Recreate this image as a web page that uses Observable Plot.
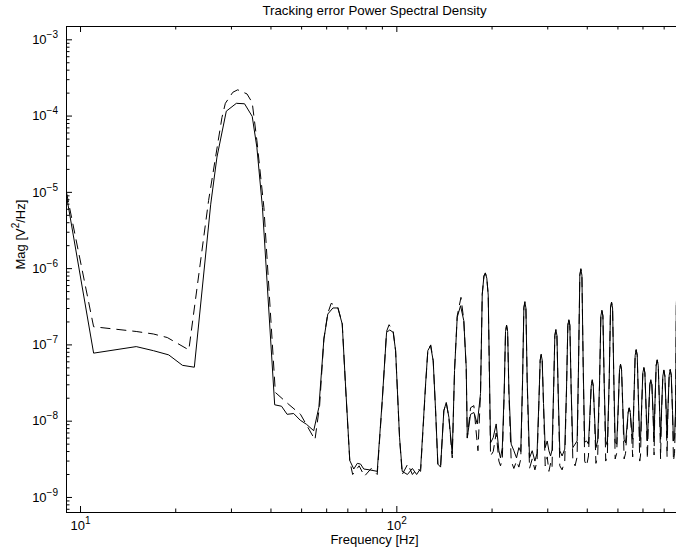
<!DOCTYPE html>
<html>
<head>
<meta charset="utf-8">
<script src="https://cdn.jsdelivr.net/npm/d3@7"></script>
<script src="https://cdn.jsdelivr.net/npm/@observablehq/plot@0.6"></script>
<style>
html, body { margin: 0; padding: 0; background: #fff; overflow: hidden; }
#chart svg { display: block; }
</style>
</head>
<body>
<div id="chart"></div>
<script>
// ---------- DATA ----------
const titleText = "Tracking error Power Spectral Density";
const xLabelText = "Frequency [Hz]";
const yLabelText = "Mag [V^{2}/Hz]";

const xTickValues = [10, 100];
const xTickLabels = ["10^{1}", "10^{2}"];
const yTickValues = [1e-9, 1e-8, 1e-7, 1e-6, 1e-5, 1e-4, 1e-3];
const yTickLabels = ["10^{−9}", "10^{−8}", "10^{−7}", "10^{−6}", "10^{−5}", "10^{−4}", "10^{−3}"];

// solid trace, [frequency Hz, magnitude] (below 183 Hz)
const solidLow = [
  [9.03, 9.0e-6], [11, 7.8e-8], [15, 9.5e-8], [17, 8.4e-8], [19, 7.4e-8], [21, 5.4e-8], [22.9, 5.1e-8],
  [25.8, 7.0e-6], [27.0, 2.9e-5], [28.9, 1.16e-4], [31.1, 1.47e-4], [33.0, 1.45e-4], [34.9, 9.9e-5],
  [36.1, 3.9e-5], [37.6, 6.3e-6], [41.1, 1.64e-8], [43.2, 1.57e-8], [45.0, 1.23e-8], [47.2, 1.26e-8],
  [49.5, 1.03e-8], [51.8, 9.1e-9], [54.6, 7.5e-9], [56.7, 1.52e-8], [58.8, 1.19e-7], [60.5, 2.54e-7],
  [62.8, 3.05e-7], [65.1, 3.05e-7], [67.2, 1.88e-7], [68.8, 3.07e-8], [71.0, 3.05e-9], [73.1, 2.36e-9],
  [75.0, 2.8e-9], [76.8, 2.74e-9], [78.6, 2.36e-9], [82.0, 2.3e-9], [86.7, 2.2e-9], [89.9, 1.86e-8],
  [92.8, 1.46e-7], [95.0, 1.57e-7], [97.4, 1.46e-7], [99.1, 8.4e-8], [102.0, 6.1e-9], [104.0, 2.2e-9],
  [108.0, 2.0e-9], [112.0, 2.4e-9], [115.5, 2.0e-9], [118.9, 2.4e-9], [123.3, 3.07e-8], [125.3, 8.4e-8],
  [127.8, 9.8e-8], [130.3, 6.2e-8], [132.6, 1.37e-8], [134.8, 2.74e-9], [137.5, 2.5e-9], [140.8, 1.37e-8],
  [143.3, 1.76e-8], [146.1, 1.12e-8], [149.7, 3.7e-9], [152.2, 4.6e-8], [155.2, 2.3e-7], [159.0, 3.26e-7],
  [162.8, 2.08e-7], [165.7, 5.1e-8], [167.0, 6.1e-9], [171.0, 1.23e-8], [175.2, 1.3e-8], [179.6, 9.2e-9]
];

// dashed trace, [frequency Hz, magnitude] (below 183 Hz)
const dashedLow = [
  [9.03, 1.0e-5], [11, 1.73e-7], [15, 1.5e-7], [17, 1.39e-7], [18.8, 1.25e-7], [22.0, 8.6e-8],
  [25.4, 7.8e-6], [28.0, 9.6e-5], [28.7, 1.47e-4], [30.3, 2.05e-4], [31.4, 2.21e-4], [33.6, 1.95e-4],
  [34.9, 1.5e-4], [36.1, 4.8e-5], [38.0, 6.3e-6], [41.3, 2.38e-8], [45.6, 1.65e-8], [49.6, 1.23e-8],
  [55.1, 5.7e-9], [57.0, 1.6e-8], [58.8, 1.2e-7], [60.5, 2.6e-7], [62.0, 3.5e-7], [64.0, 3.3e-7],
  [65.1, 3.1e-7], [67.2, 1.9e-7], [68.8, 3.0e-8], [71.0, 3.0e-9], [72.5, 2.0e-9], [76.0, 2.6e-9],
  [79.0, 1.9e-9], [83.0, 2.4e-9], [86.7, 2.0e-9], [89.9, 1.8e-8], [92.8, 1.5e-7], [94.5, 1.84e-7],
  [97.4, 1.5e-7], [99.1, 8.4e-8], [102.0, 6.0e-9], [104.0, 2.0e-9], [108.3, 2.75e-9], [112.0, 2.0e-9],
  [116.0, 2.4e-9], [118.9, 2.2e-9], [123.3, 3.0e-8], [125.3, 8.4e-8], [128.0, 1.0e-7], [130.3, 6.2e-8],
  [132.6, 1.37e-8], [134.8, 2.7e-9], [137.5, 2.5e-9], [140.8, 1.37e-8], [143.3, 1.76e-8], [146.1, 1.1e-8],
  [149.7, 3.3e-9], [152.2, 4.6e-8], [155.2, 2.4e-7], [159.5, 4.2e-7], [162.8, 2.1e-7], [165.7, 5.0e-8],
  [167.0, 6.0e-9], [171.0, 1.5e-8], [175.2, 1.6e-8], [178.0, 7.5e-9], [180.5, 4.1e-9]
];

// upper band, [frequency Hz, solid magnitude, dashed magnitude]
const highBand = [
  [183.9, 2.3e-8, 2.3e-8], [186.2, 4.6e-7, 4.6e-7], [188.5, 8.0e-7, 8.0e-7], [190.5, 8.7e-7, 8.8e-7],
  [192.5, 7.5e-7, 7.5e-7], [194.5, 4.5e-7, 4.5e-7], [197.8, 5.2e-9, 3.5e-9], [201.7, 6.1e-9, 4.0e-9],
  [206.1, 9.2e-9, 7.0e-9], [210.2, 4.1e-9, 3.0e-9], [212.7, 3.3e-9, 2.6e-9], [215.5, 4.5e-9, 3.2e-9],
  [218.5, 2.5e-8, 2.3e-8], [220.6, 1.5e-7, 1.5e-7], [222.3, 1.79e-7, 1.82e-7], [224.0, 1.5e-7, 1.5e-7],
  [226.1, 2.5e-8, 2.3e-8], [229.9, 5.0e-9, 3.0e-9], [234.4, 4.1e-9, 2.4e-9], [239.0, 3.3e-9, 3.0e-9],
  [243.1, 4.5e-9, 2.5e-9], [246.5, 4.0e-9, 3.2e-9], [249.7, 3.4e-8, 3.2e-8], [252.1, 3.05e-7, 3.1e-7],
  [254.0, 3.6e-7, 3.7e-7], [255.9, 3.05e-7, 3.1e-7], [258.3, 3.4e-8, 3.2e-8], [262.7, 3.3e-9, 2.4e-9],
  [267.9, 4.1e-9, 3.2e-9], [273.2, 3.0e-9, 2.3e-9], [277.5, 3.8e-9, 3.0e-9], [281.1, 1.7e-8, 1.6e-8],
  [283.9, 6.3e-8, 6.3e-8], [286.0, 7.4e-8, 7.6e-8], [288.1, 6.3e-8, 6.3e-8], [290.9, 1.7e-8, 1.6e-8],
  [294.5, 4.5e-9, 2.6e-9], [298.8, 5.5e-9, 3.4e-9], [302.5, 4.1e-9, 2.2e-9], [306.2, 3.5e-9, 2.8e-9],
  [309.5, 4.2e-9, 2.4e-9], [312.9, 2.4e-8, 2.3e-8], [315.9, 1.33e-7, 1.33e-7], [318.3, 1.57e-7, 1.6e-7],
  [320.7, 1.33e-7, 1.33e-7], [323.7, 2.4e-8, 2.3e-8], [327.5, 4.1e-9, 2.6e-9], [333.0, 3.5e-9, 2.3e-9],
  [339.5, 4.3e-9, 3.0e-9], [343.9, 2.7e-8, 2.6e-8], [347.2, 1.8e-7, 1.8e-7], [349.8, 2.14e-7, 2.2e-7],
  [352.4, 1.8e-7, 1.8e-7], [355.7, 2.7e-8, 2.6e-8], [360.0, 4.5e-9, 3.2e-9], [366.0, 5.0e-9, 2.6e-9],
  [371.5, 5.5e-9, 3.4e-9], [375.3, 5.4e-8, 5.2e-8], [378.9, 8.2e-7, 8.3e-7], [381.8, 9.7e-7, 1.0e-6],
  [384.7, 8.2e-7, 8.3e-7], [388.3, 5.4e-8, 5.2e-8], [392.5, 5.3e-9, 3.0e-9], [398.0, 5.5e-9, 2.6e-9],
  [403.5, 5.0e-9, 3.5e-9], [407.6, 1.19e-8, 1.1e-8], [411.6, 2.9e-8, 2.9e-8], [414.7, 3.4e-8, 3.5e-8],
  [417.8, 2.9e-8, 2.9e-8], [421.7, 1.19e-8, 1.1e-8], [426.0, 4.5e-9, 2.8e-9], [431.5, 5.5e-9, 3.5e-9],
  [437.3, 3.1e-8, 3.0e-8], [441.6, 2.4e-7, 2.4e-7], [444.9, 2.8e-7, 2.85e-7], [448.2, 2.4e-7, 2.4e-7],
  [452.5, 3.1e-8, 3.0e-8], [457.5, 5.5e-9, 3.0e-9], [463.0, 4.8e-9, 3.6e-9], [469.2, 3.4e-8, 3.3e-8],
  [473.7, 3.05e-7, 3.05e-7], [477.3, 3.6e-7, 3.65e-7], [480.9, 3.05e-7, 3.05e-7], [485.4, 3.4e-8, 3.3e-8],
  [490.0, 5.3e-9, 3.2e-9], [495.5, 5.0e-9, 3.8e-9], [500.9, 1.47e-8, 1.4e-8], [505.8, 4.7e-8, 4.7e-8],
  [509.6, 5.5e-8, 5.6e-8], [513.4, 4.7e-8, 4.7e-8], [518.3, 1.47e-8, 1.4e-8], [523.0, 5.8e-9, 3.2e-9],
  [528.5, 5.2e-9, 3.8e-9], [533.6, 8.2e-9, 7.0e-9], [538.7, 1.3e-8, 1.3e-8], [542.8, 1.49e-8, 1.5e-8],
  [546.9, 1.3e-8, 1.3e-8], [552.0, 8.2e-9, 7.0e-9], [556.7, 5.8e-9, 3.4e-9], [561.4, 1.8e-8, 1.7e-8],
  [566.8, 7.3e-8, 7.3e-8], [571.1, 8.6e-8, 8.7e-8], [575.4, 7.3e-8, 7.3e-8], [580.8, 1.8e-8, 1.7e-8],
  [586.0, 5.5e-9, 3.0e-9], [589.5, 6.0e-9, 3.6e-9], [593.6, 1.4e-8, 1.3e-8], [599.4, 4.3e-8, 4.3e-8],
  [603.9, 5.0e-8, 5.1e-8], [608.4, 4.3e-8, 4.3e-8], [614.2, 1.4e-8, 1.3e-8], [619.5, 5.5e-9, 3.2e-9],
  [624.6, 1.2e-8, 1.1e-8], [630.6, 3.0e-8, 3.0e-8], [635.4, 3.5e-8, 3.5e-8], [640.2, 3.0e-8, 3.0e-8],
  [646.2, 1.2e-8, 1.1e-8], [650.5, 6.0e-9, 3.6e-9], [654.2, 1.57e-8, 1.5e-8], [660.5, 5.4e-8, 5.4e-8],
  [665.5, 6.3e-8, 6.4e-8], [670.5, 5.4e-8, 5.4e-8], [676.8, 1.57e-8, 1.5e-8], [682.0, 5.8e-9, 3.2e-9],
  [686.7, 1.36e-8, 1.3e-8], [693.4, 3.9e-8, 3.9e-8], [698.6, 4.6e-8, 4.7e-8], [703.8, 3.9e-8, 3.9e-8],
  [710.5, 1.36e-8, 1.3e-8], [715.0, 6.0e-9, 3.4e-9], [719.2, 1.37e-8, 1.3e-8], [726.1, 4.0e-8, 4.0e-8],
  [731.6, 4.7e-8, 4.8e-8], [737.1, 4.0e-8, 4.0e-8], [744.0, 1.37e-8, 1.3e-8], [749.0, 5.5e-9, 3.0e-9],
  [755.0, 6.0e-9, 3.8e-9], [761.0, 1.5e-8, 1.4e-8], [765.0, 3.5e-7, 3.5e-7], [770.0, 6.0e-7, 6.0e-7],
  [775.0, 2.0e-8, 2.0e-8], [785.0, 5.0e-9, 3.0e-9]
];

// ---------- BUILD ----------
const solid = solidLow.concat(highBand.map(d => [d[0], d[1]]));
const dashed = dashedLow.concat(highBand.map(d => [d[0], d[2]]));

const xDomain = [9.03, 800];
const yDomain = [6.35e-10, 1.494e-3];
const W = 676, H = 555;
const mL = 66, mR = -6, mT = 26, mB = 43;
const plotW = W - mL - mR;
const plotH = H - mT - mB;

const minorX = [];
for (const k of [10, 100]) for (let m = 2; m <= 9; m++) { const v = m * k; if (v > xDomain[0] && v < xDomain[1]) minorX.push(v); }
const minorY = [];
for (let e = -10; e <= -3; e++) for (let m = 2; m <= 9; m++) { const v = m * Math.pow(10, e); if (v > yDomain[0] && v < yDomain[1]) minorY.push(v); }

const majLen = 6, minLen = 3.5;
const tickStyle = {stroke: "black", strokeWidth: 1};

const chart = Plot.plot({
  width: W, height: H,
  marginLeft: mL, marginRight: mR, marginTop: mT, marginBottom: mB,
  x: {type: "log", domain: xDomain, axis: null},
  y: {type: "log", domain: yDomain, axis: null},
  style: {fontFamily: "'Liberation Sans', Arial, Helvetica, sans-serif", fontSize: "13px", background: "white", color: "black"},
  marks: [
    // ticks (inward, MATLAB style)
    Plot.tickY(yTickValues, {y: d => d, insetRight: plotW - majLen, ...tickStyle}),
    Plot.tickY(minorY, {y: d => d, insetRight: plotW - minLen, ...tickStyle}),
    Plot.tickX(xTickValues, {x: d => d, insetTop: plotH - majLen, ...tickStyle}),
    Plot.tickX(minorX, {x: d => d, insetTop: plotH - minLen, ...tickStyle}),
    Plot.tickX(xTickValues, {x: d => d, insetBottom: plotH - majLen, ...tickStyle}),
    Plot.tickX(minorX, {x: d => d, insetBottom: plotH - minLen, ...tickStyle}),
    // traces
    Plot.line(dashed, {x: d => d[0], y: d => d[1], stroke: "black", strokeWidth: 1, strokeDasharray: "10,6", strokeLinecap: "butt", strokeLinejoin: "round", clip: true}),
    Plot.line(solid, {x: d => d[0], y: d => d[1], stroke: "black", strokeWidth: 1, strokeLinecap: "butt", strokeLinejoin: "round", clip: true}),
    Plot.frame({stroke: "black", strokeWidth: 1}),
    // tick labels
    Plot.text(xTickValues, {x: d => d, frameAnchor: "bottom", lineAnchor: "middle", dy: 13.5, text: (d, i) => xTickLabels[i], textAnchor: "middle"}),
    Plot.text(yTickValues, {y: d => d, frameAnchor: "left", lineAnchor: "middle", dx: -8.5, text: (d, i) => yTickLabels[i], textAnchor: "end"}),
    // axis titles and title
    Plot.text([xLabelText], {frameAnchor: "bottom", lineAnchor: "middle", dy: 27.5, text: d => d}),
    Plot.text([yLabelText], {frameAnchor: "left", lineAnchor: "middle", dx: -46, rotate: -90, text: d => d}),
    Plot.text([titleText], {frameAnchor: "top", lineAnchor: "middle", dy: -16, fontSize: 13.3, text: d => d})
  ]
});

// turn ^{...} into real superscript tspans
d3.select(chart).selectAll("text").each(function() {
  const t = this.textContent;
  if (!t.includes("^{")) return;
  const parts = t.split(/\^\{([^}]*)\}/);
  const sel = d3.select(this);
  sel.text(null);
  const raise = 6;
  parts.forEach((p, i) => {
    if (p === "") return;
    if (i % 2 === 1) {
      sel.append("tspan").attr("dy", -raise).attr("font-size", "10px").text(p);
    } else {
      const ts = sel.append("tspan").text(p);
      if (i > 0) ts.attr("dy", raise);
    }
  });
});

document.getElementById("chart").appendChild(chart);
</script>
</body>
</html>
